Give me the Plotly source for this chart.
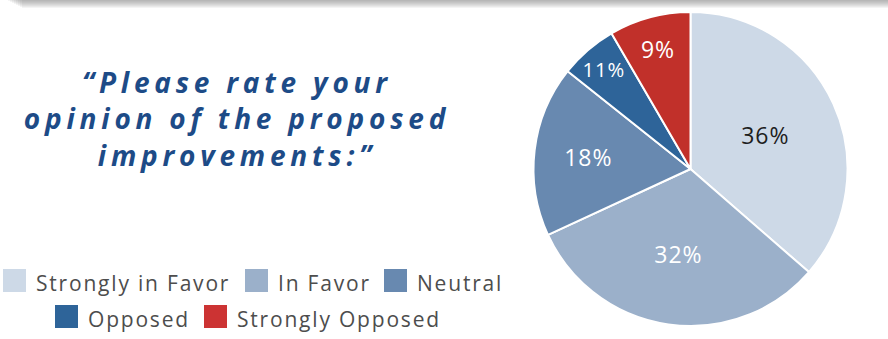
import plotly.graph_objects as go

# ---------------- data ----------------
categories = ["Strongly in Favor", "In Favor", "Neutral", "Opposed", "Strongly Opposed"]
slice_share = [36.4, 31.7, 17.6, 5.9, 8.4]
shown_pct = ["36%", "32%", "18%", "11%", "9%"]       # percentages as printed on the slices
colors = ["#cdd9e7", "#9bb0ca", "#6889b0", "#2e6499", "#c1302a"]
legend_colors = ["#cdd9e7", "#9bb0ca", "#6889b0", "#2e6499", "#cc3333"]
text_colors = ["#1e1e1e", "#ffffff", "#ffffff", "#ffffff", "#ffffff"]
title_text = "“Please rate your<br>opinion of the proposed<br>improvements:”"

# ---------------- layout helpers ----------------
W, H = 888, 339


def px(x):
    return x / W


def py(y):
    return 1 - y / H


fig = go.Figure()
fig.add_trace(go.Pie(
    labels=categories,
    values=slice_share,
    text=shown_pct,
    textinfo="text",
    textposition="inside",
    insidetextorientation="horizontal",
    textfont=dict(family="Open Sans", size=23, color=text_colors),
    marker=dict(colors=colors, line=dict(color="#ffffff", width=2)),
    sort=False,
    direction="clockwise",
    rotation=0,
    showlegend=False,
    hoverinfo="skip",
    domain=dict(x=[px(533.5), px(847.5)], y=[py(326.5), py(11.5)]),
))

shapes = []
# soft shadow band along the top edge
for i in range(8):
    shapes.append(dict(type="rect", xref="paper", yref="paper",
                       x0=px(8 + 2 * i), x1=1, y0=py(1 + i), y1=1,
                       fillcolor="#666666", opacity=0.07, line=dict(width=0),
                       layer="below"))

annotations = [dict(text=title_text, x=px(237), y=py(118), xref="paper", yref="paper",
                    xanchor="center", yanchor="middle", align="center", showarrow=False,
                    font=dict(family="Open Sans", size=28, color="#1d4b87",
                              weight="bold", style="italic"))]

# manual legend (two centred rows)
legend_rows = [([0, 1, 2], [3, 245, 384], 280.5), ([3, 4], [55, 204], 316.5)]
sq = 23
for idxs, lefts, cy in legend_rows:
    for k, left in zip(idxs, lefts):
        shapes.append(dict(type="rect", xref="paper", yref="paper",
                           x0=px(left), x1=px(left + sq), y0=py(cy + sq / 2), y1=py(cy - sq / 2),
                           fillcolor=legend_colors[k], line=dict(width=0)))
        annotations.append(dict(text=categories[k], x=px(left + sq + 8), y=py(cy + 2),
                                xref="paper", yref="paper", xanchor="left", yanchor="middle",
                                align="left", showarrow=False,
                                font=dict(family="Open Sans", size=21, color="#4d4d4d")))

fig.update_layout(
    width=W, height=H, margin=dict(l=0, r=0, t=0, b=0),
    paper_bgcolor="#ffffff", plot_bgcolor="#ffffff",
    shapes=shapes, annotations=annotations,
)

post = """
var st = document.createElement('style');
st.textContent = ".annotation text{letter-spacing:1.8px;} .annotation[data-index='0'] text{letter-spacing:4.8px;} .slicetext{letter-spacing:1px;}";
document.head.appendChild(st);
"""
fig.write_html("out.html", post_script=post, config={"displayModeBar": False})
